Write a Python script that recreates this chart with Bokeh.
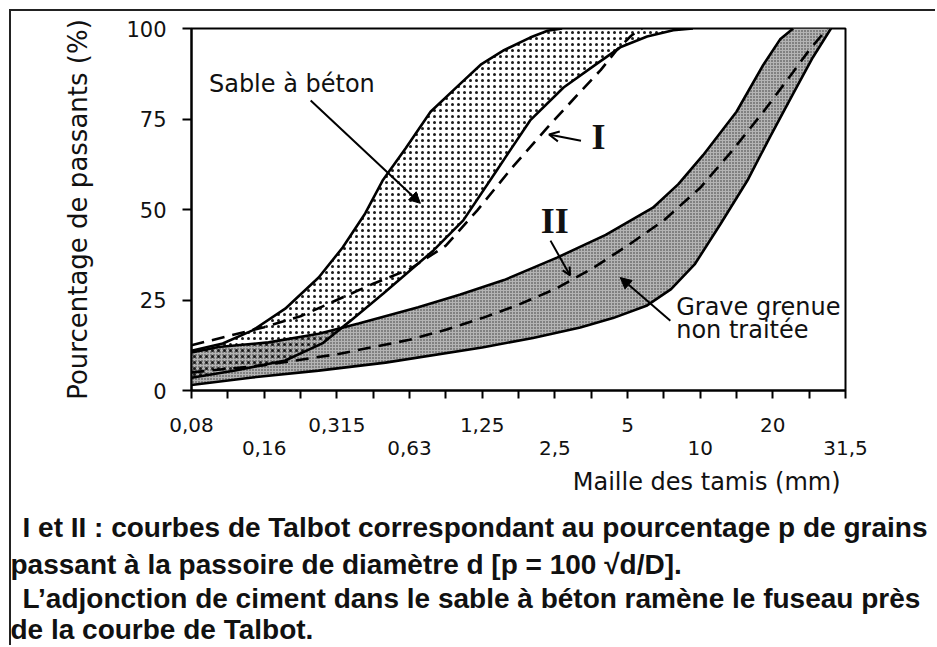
import numpy as np
from bokeh.plotting import figure
from bokeh.models import (LinearAxis, FixedTicker, Range1d, Label, Arrow, Title,
                          NormalHead, OpenHead)
from bokeh.core.properties import value
from bokeh.embed import file_html
from bokeh.resources import INLINE

# Sieve openings (mm); the chart places them at equal spacing (index 0..9)
sieve_labels = ["0,08", "0,16", "0,315", "0,63", "1,25", "2,5", "5", "10", "20", "31,5"]
sieve_pos = [0, 1, 2, 3, 4, 5, 6, 7, 8, 9]
y_ticks = [0, 25, 50, 75, 100]

# Sable à béton band (x = sieve position, y = % passing)
sable_upper_x = [0, 0.43, 0.84, 1.29, 1.75, 2.08, 2.39, 2.63, 2.95, 3.29, 3.66, 3.98, 4.3, 4.66, 4.9, 5.1]
sable_upper_y = [11, 13, 16.6, 22.6, 31.2, 39.5, 48.9, 58, 67, 77, 84, 90, 94, 97.5, 99.4, 100]
sable_lower_x = [0, 0.6, 1.29, 1.8, 2.19, 2.64, 3.33, 3.74, 4.2, 4.66, 5.12, 5.58, 5.9, 6.27, 6.63, 6.9]
sable_lower_y = [3.5, 5.5, 8.3, 13, 19.3, 26.8, 38.7, 47, 60.8, 74.6, 83.7, 90.3, 94.8, 97.8, 99.5, 100]

# Grave grenue non traitée band
grave_upper_x = [0, 0.37, 1.06, 1.75, 2.3, 3.12, 3.7, 4.3, 5.03, 5.7, 6.35, 6.7, 7.04, 7.5, 7.87, 8.1, 8.28]
grave_upper_y = [10.5, 12, 13.3, 15.7, 18.5, 23, 26.5, 30.5, 36.7, 43, 50.5, 57, 65, 77, 90, 97, 100]
grave_lower_x = [0, 0.84, 1.75, 2.67, 4.0, 4.7, 5.35, 5.8, 6.27, 6.6, 6.93, 7.28, 7.65, 7.96, 8.28, 8.55, 8.8]
grave_lower_y = [1.5, 3.6, 5.5, 7.7, 11.9, 14.5, 17.4, 20, 23.5, 28, 35, 46, 58, 70, 82, 92, 100]

# Talbot curves I and II
talbot1_x = [0, 0.5, 1, 1.5, 2, 2.5, 3, 3.5, 3.93, 4.43, 4.9, 5.35, 5.63, 5.85, 6.05, 6.2]
talbot1_y = [12.5, 15, 17.5, 20.5, 25, 29.5, 33.5, 40, 49.7, 62, 72.7, 82.5, 88.5, 94, 98, 100]
talbot2_x = [0, 0.5, 1, 1.5, 2, 2.5, 3, 3.5, 4, 4.5, 5, 5.5, 6, 6.5, 7, 7.41, 7.87, 8.28, 8.5, 8.75]
talbot2_y = [5, 6, 7, 8.5, 10, 12, 14, 16.8, 20, 23.7, 28, 33.5, 40, 47, 56, 65.5, 77, 88, 94, 100]

CHART_FONT = "DejaVu Sans"
CAPTION_FONT = "Liberation Sans"

p = figure(width=926, height=636, x_range=Range1d(0, 9), y_range=Range1d(0, 100),
           output_backend="svg", toolbar_location=None, x_axis_type=None,
           min_border_left=180, min_border_right=92, min_border_top=17,
           min_border_bottom=257)
p.styles = {"border-left": "2px solid #222", "border-top": "2px solid #222",
            "margin-left": "9px", "margin-top": "9px"}
p.grid.visible = False
p.outline_line_color = "black"
p.outline_line_width = 2
p.background_fill_color = "white"
p.border_fill_color = "white"

# y axis
ya = p.yaxis[0]
ya.ticker = FixedTicker(ticks=y_ticks, minor_ticks=[])
ya.axis_label = "Pourcentage de passants (%)"
ya.axis_label_text_font = CHART_FONT
ya.axis_label_text_font_size = "26px"
ya.axis_label_text_font_style = "normal"
ya.axis_label_text_color = "#111"
ya.axis_label_standoff = 30
ya.major_label_text_font = CHART_FONT
ya.major_label_text_font_size = "21px"
ya.major_label_text_color = "#111"
ya.major_label_standoff = 16
ya.axis_line_width = 2
ya.major_tick_line_width = 2
ya.major_tick_out = 9
ya.major_tick_in = 0

# x axes: two rows of labels
minor = [v + 0.5 for v in sieve_pos[:-1]]
ax1 = LinearAxis(ticker=FixedTicker(ticks=sieve_pos[0::2], minor_ticks=minor + sieve_pos[1::2]),
                 major_label_overrides={v: sieve_labels[v] for v in sieve_pos[0::2]})
ax2 = LinearAxis(ticker=FixedTicker(ticks=sieve_pos[1::2], minor_ticks=[]),
                 major_label_overrides={v: sieve_labels[v] for v in sieve_pos[1::2]})
for ax in (ax1, ax2):
    ax.major_label_text_font = CHART_FONT
    ax.major_label_text_font_size = "20px"
    ax.major_label_text_color = "#111"
ax1.axis_line_width = 2
ax1.major_tick_line_width = 2
ax1.minor_tick_line_width = 2
ax1.major_tick_out = 8
ax1.major_tick_in = 0
ax1.minor_tick_out = 8
ax1.minor_tick_in = 0
ax1.major_label_standoff = 19
ax2.axis_line_color = None
ax2.major_tick_line_color = None
ax2.minor_tick_line_color = None
ax2.major_tick_out = 0
ax2.major_label_standoff = 6
p.add_layout(ax1, "below")
p.add_layout(ax2, "below")

# bands
gx = grave_upper_x + grave_lower_x[::-1]
gy = grave_upper_y + grave_lower_y[::-1]
p.patch(gx, gy, fill_color="#b4b4b4", line_color=None,
        hatch_pattern=".", hatch_color="#333333", hatch_scale=3, hatch_weight=1)
sx = sable_upper_x + sable_lower_x[::-1]
sy = sable_upper_y + sable_lower_y[::-1]
p.patch(sx, sy, fill_color="white", fill_alpha=0.0, line_color=None,
        hatch_pattern=".", hatch_color="#1a1a1a", hatch_scale=6, hatch_weight=1.6)

for xs, ys in ((sable_upper_x, sable_upper_y), (sable_lower_x, sable_lower_y),
               (grave_upper_x, grave_upper_y), (grave_lower_x, grave_lower_y)):
    p.line(xs, ys, line_color="black", line_width=2.6)

p.line(talbot1_x, talbot1_y, line_color="black", line_width=2.6, line_dash="13 8")
p.line(talbot2_x, talbot2_y, line_color="black", line_width=2.6, line_dash="13 8")

# annotations inside the chart
def lab(x, y, t, size="24px", font=CHART_FONT, style="normal", align="left"):
    p.add_layout(Label(x=x, y=y, text=t, text_font=font, text_font_size=size,
                       text_font_style=style, text_baseline="middle", text_align=align,
                       text_color="#111"))

lab(0.24, 84.8, "Sable à béton")
lab(6.67, 23.2, "Grave grenue")
lab(6.67, 16.6, "non traitée")
lab(5.6, 69.9, "I", size="36px", font="Liberation Serif", style="bold", align="center")
lab(5.0, 46.7, "II", size="36px", font="Liberation Serif", style="bold", align="center")

p.add_layout(Arrow(x_start=1.64, y_start=80.1, x_end=3.15, y_end=51.7, line_width=2,
                   end=NormalHead(size=11, fill_color="black", line_color="black")))
p.add_layout(Arrow(x_start=6.59, y_start=19.3, x_end=5.90, y_end=31.2, line_width=2,
                   end=NormalHead(size=11, fill_color="black", line_color="black")))
p.add_layout(Arrow(x_start=5.36, y_start=69.0, x_end=4.92, y_end=70.7, line_width=2,
                   end=OpenHead(size=10, line_width=2)))
p.add_layout(Arrow(x_start=4.94, y_start=41.4, x_end=5.21, y_end=31.8, line_width=2,
                   end=OpenHead(size=8, line_width=2)))

# axis title and caption, as titles stacked below the chart
def below_title(t, size, font, style, align, offset, standoff):
    p.add_layout(Title(text=t, text_font=font, text_font_size=size, text_font_style=style,
                       align=align, offset=offset, standoff=standoff, text_color="#111"),
                 "below")

below_title("Maille des tamis (mm)", "24px", CHART_FONT, "normal", "right", 5, 16)
below_title("I et II : courbes de Talbot correspondant au pourcentage p de grains",
            "28px", CAPTION_FONT, "bold", "left", -169, 12)
below_title("passant à la passoire de diamètre d [p = 100 √d/D].",
            "28px", CAPTION_FONT, "bold", "left", -181, -4)
below_title("L’adjonction de ciment dans le sable à béton ramène le fuseau près",
            "28px", CAPTION_FONT, "bold", "left", -169, 7)
below_title("de la courbe de Talbot.",
            "28px", CAPTION_FONT, "bold", "left", -181, -11)

open("out.html", "w").write(file_html(p, INLINE))
